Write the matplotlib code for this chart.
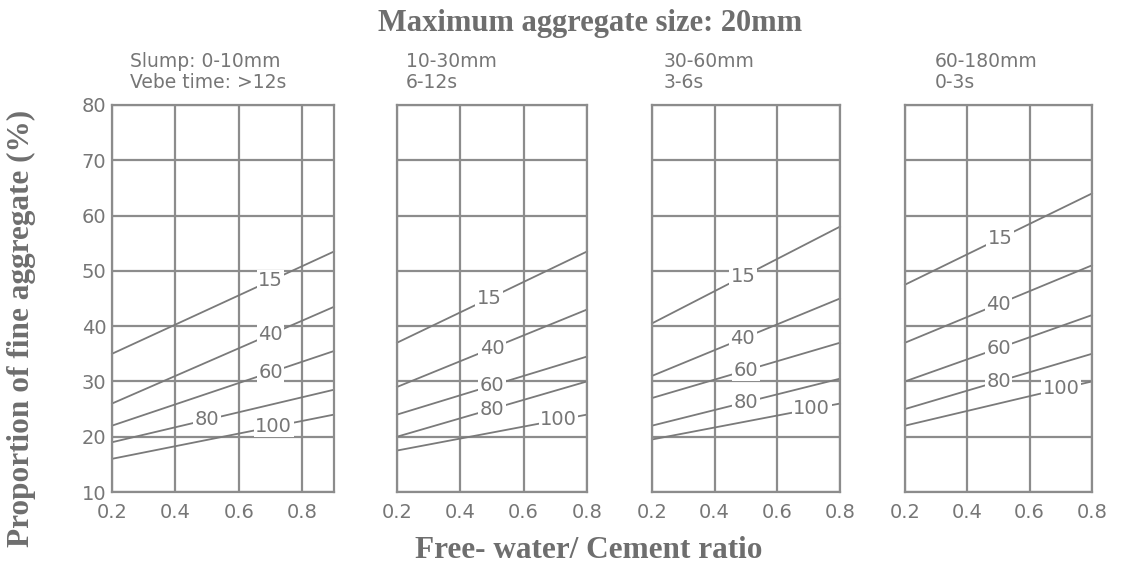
import matplotlib
matplotlib.use('Agg')
import matplotlib.pyplot as plt
import numpy as np

# fine aggregate passing 600um sieve (%) - one line per value
fines = ['15', '40', '60', '80', '100']

# panel headers
headers = ['Slump: 0-10mm\nVebe time: >12s', '10-30mm\n6-12s', '30-60mm\n3-6s', '60-180mm\n0-3s']

# x range of each panel (free-water/cement ratio)
x_lo = [0.2, 0.2, 0.2, 0.2]
x_hi = [0.9, 0.8, 0.8, 0.8]

# proportion of fine aggregate (%) at left and right end of each line
p1_start = [35, 26, 22, 19, 16]
p1_end = [53.5, 43.5, 35.5, 28.5, 24]
p2_start = [37, 29, 24, 20, 17.5]
p2_end = [53.5, 43, 34.5, 30, 24]
p3_start = [40.5, 31, 27, 22, 19.5]
p3_end = [58, 45, 37, 30.5, 26]
p4_start = [47.5, 37, 30, 25, 22]
p4_end = [64, 51, 42, 35, 30]

# where the line labels sit (x)
p1_lab = [0.70, 0.70, 0.70, 0.50, 0.71]
p2_lab = [0.49, 0.50, 0.50, 0.50, 0.71]
p3_lab = [0.49, 0.49, 0.50, 0.50, 0.71]
p4_lab = [0.505, 0.50, 0.50, 0.50, 0.70]

starts = [p1_start, p2_start, p3_start, p4_start]
ends = [p1_end, p2_end, p3_end, p4_end]
labx = [p1_lab, p2_lab, p3_lab, p4_lab]

xticks = [0.2, 0.4, 0.6, 0.8]
yticks = [10, 20, 30, 40, 50, 60, 70, 80]

W, H = 1121., 577.
gridc = '#8c8c8c'
linec = '#7a7a7a'
textc = '#767676'

fig = plt.figure(figsize=(W/100, H/100), dpi=100)

# panel pixel boxes (left, right)
boxes = [(112, 334), (397, 587), (652, 840), (905, 1092)]
top, bot = 105, 492
head_x = [130, 406, 664, 935]

for i in range(4):
    l, r = boxes[i]
    ax = fig.add_axes([l/W, 1-bot/H, (r-l)/W, (bot-top)/H])
    ax.set_xlim(x_lo[i], x_hi[i])
    ax.set_ylim(10, 80)
    ax.set_xticks(xticks)
    ax.set_xticklabels(['0.2', '0.4', '0.6', '0.8'])
    ax.set_yticks(yticks)
    if i > 0:
        ax.set_yticklabels([])
    ax.tick_params(length=0, labelsize=14, colors=textc, pad=8)
    ax.tick_params(axis='y', pad=4)
    ax.grid(True, color=gridc, lw=1.6)
    ax.set_axisbelow(True)
    for s in ax.spines.values():
        s.set_color(gridc)
        s.set_linewidth(1.6)

    for j in range(len(fines)):
        xs = [x_lo[i], x_hi[i]]
        ys = [starts[i][j], ends[i][j]]
        ax.plot(xs, ys, color=linec, lw=1.3, zorder=2, clip_on=False)
        ly = np.interp(labx[i][j], xs, ys)
        ax.text(labx[i][j], ly, fines[j], ha='center', va='center', fontsize=14,
                color=textc, zorder=4,
                bbox=dict(facecolor='white', edgecolor='none', pad=1.0))

    fig.text(head_x[i]/W, 1-72/H, headers[i], ha='left', va='center', fontsize=13.5,
             color=textc, linespacing=1.1)

fig.text(590/W, 1-23/H, 'Maximum aggregate size: 20mm', ha='center', va='center',
         family='Liberation Serif', fontweight='bold', fontsize=22, color='#6e6e6e')
fig.text(21/W, 1-328/H, 'Proportion of fine aggregate (%)', ha='center', va='center',
         rotation=90, family='Liberation Serif', fontweight='bold', fontsize=22.5,
         color='#6e6e6e')
fig.text(589/W, 1-551/H, 'Free- water/ Cement ratio', ha='center', va='center',
         family='Liberation Serif', fontweight='bold', fontsize=22.5, color='#6e6e6e')

fig.savefig('out.png', dpi=100, facecolor='white')
